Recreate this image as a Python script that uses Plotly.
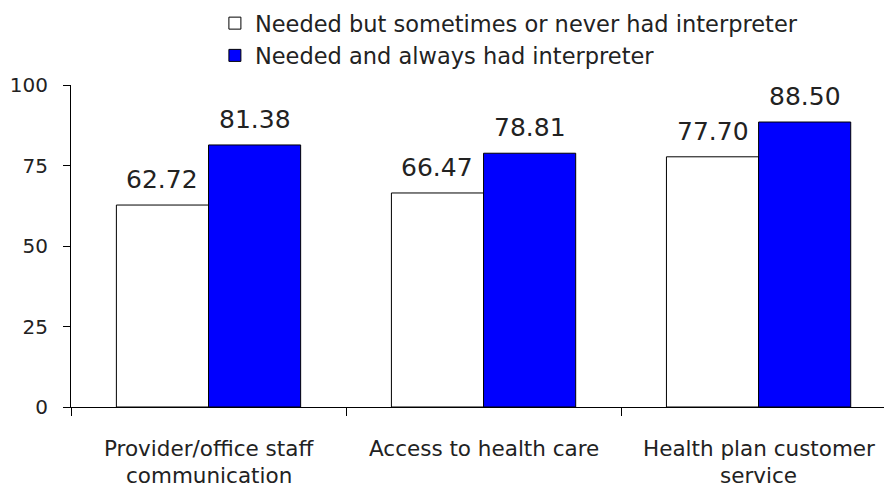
import plotly.graph_objects as go

categories = ["Provider/office staff communication", "Access to health care", "Health plan customer service"]
cat_line1 = ["Provider/office staff", "Access to health care", "Health plan customer"]
cat_line2 = ["communication", "", "service"]
series_names = ["Needed but sometimes or never had interpreter", "Needed and always had interpreter"]
sometimes_vals = [62.72, 66.47, 77.70]
always_vals = [81.38, 78.81, 88.50]
y_tickvals = [0, 25, 50, 75, 100]

FONT = "DejaVu Sans"
TXT = "#222222"
idx = list(range(len(categories)))

fig = go.Figure()
fig.add_trace(go.Bar(x=idx, y=sometimes_vals, name=series_names[0], legendgroup="a",
                     marker=dict(color="white", line=dict(color="black", width=1))))
fig.add_trace(go.Bar(x=idx, y=always_vals, name=series_names[1], legendgroup="b",
                     marker=dict(color="#0000FF", line=dict(color="black", width=1))))

bargap = 0.33
plot_w = 884 - 71
xr = [-0.5, 2.456]
cat_px = plot_w / (xr[1] - xr[0])
bar_px = cat_px * (1 - bargap) / 2

ann = []
for i in idx:
    for vals, sh in ((sometimes_vals, -bar_px / 2), (always_vals, bar_px / 2)):
        ann.append(dict(x=i, y=vals[i], xref="x", yref="y", text=f"{vals[i]:.2f}",
                        showarrow=False, yanchor="bottom", xshift=sh, yshift=9,
                        font=dict(family=FONT, size=25, color=TXT)))
    ann.append(dict(x=i, y=-0.128, xref="x", yref="paper", text=cat_line1[i], showarrow=False,
                    yanchor="middle", font=dict(family=FONT, size=21.5, color=TXT)))
    if cat_line2[i]:
        ann.append(dict(x=i, y=-0.212, xref="x", yref="paper", text=cat_line2[i], showarrow=False,
                        yanchor="middle", font=dict(family=FONT, size=21.5, color=TXT)))

fig.update_layout(
    width=884, height=489,
    margin=dict(l=71, r=0, t=85, b=82),
    paper_bgcolor="white", plot_bgcolor="white",
    barmode="group", bargap=bargap, bargroupgap=0,
    font=dict(family=FONT, size=16, color=TXT),
    showlegend=True,
    legend=dict(x=0.177, y=1.0 - 2 / 489, xref="paper", yref="container", xanchor="left", yanchor="top",
                orientation="v", traceorder="normal", tracegroupgap=1, bgcolor="rgba(0,0,0,0)",
                font=dict(family=FONT, size=22.5, color=TXT), itemwidth=30),
    annotations=ann,
)
fig.update_xaxes(range=xr, tickmode="array", tickvals=[-0.5, 0.5, 1.5, 2.5], ticktext=["", "", "", ""],
                 ticks="outside", ticklen=8, tickcolor="black", showline=True, linecolor="black",
                 linewidth=1, showgrid=False, zeroline=False, automargin=False)
fig.update_yaxes(range=[0, 100], tickmode="array", tickvals=y_tickvals, ticks="outside", ticklen=7,
                 tickcolor="black", showline=True, linecolor="black", linewidth=1, showgrid=False,
                 zeroline=False, ticklabelstandoff=11, automargin=False,
                 tickfont=dict(family=FONT, size=20, color=TXT))

fig.write_html("out.html", config={"displayModeBar": False},
               post_script="document.body.style.margin='0';document.body.style.overflow='hidden';")
